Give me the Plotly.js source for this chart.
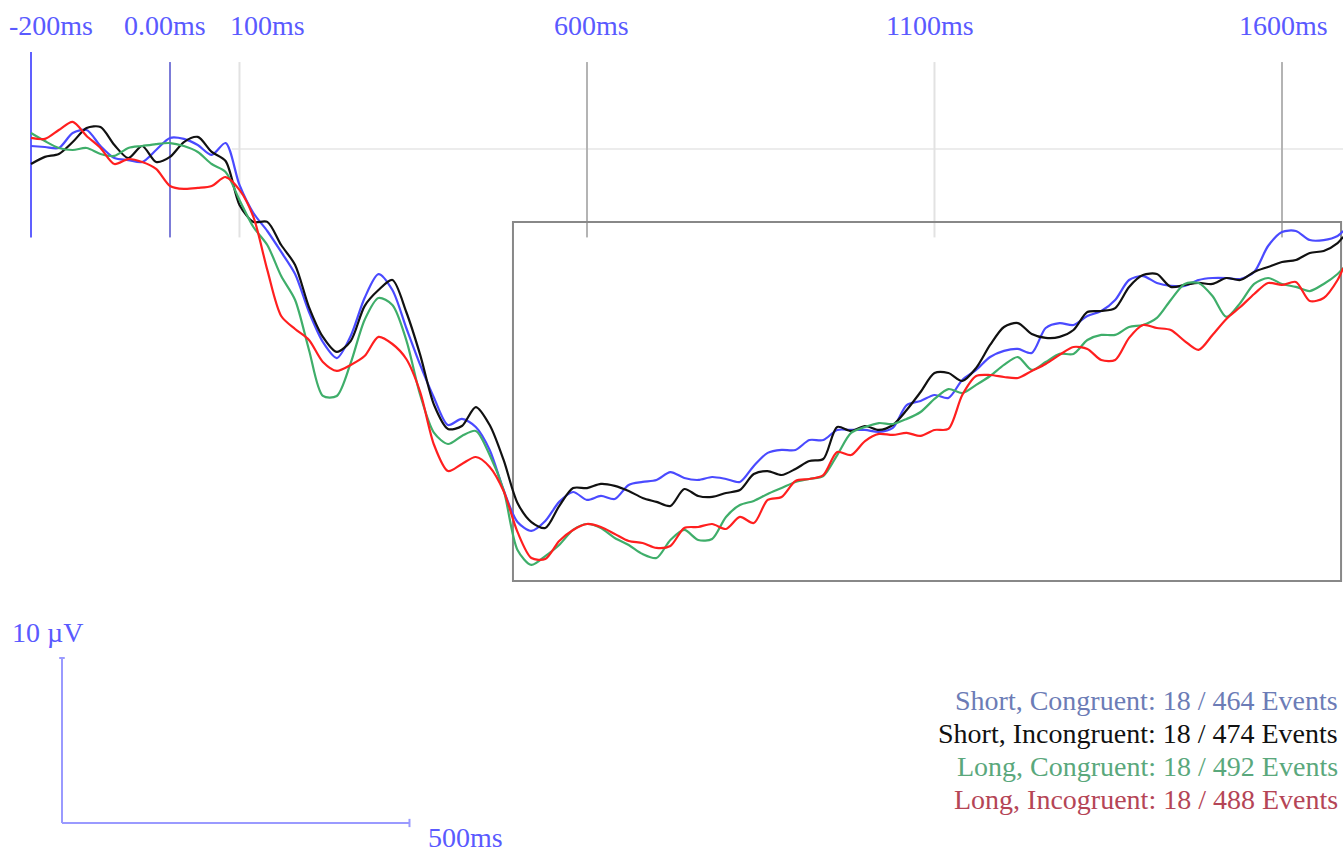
<!DOCTYPE html>
<html>
<head>
<meta charset="utf-8">
<script src="https://cdn.plot.ly/plotly-3.0.1.min.js"></script>
<style>
  html, body { margin: 0; padding: 0; background: #ffffff; }
  #erp { width: 1343px; height: 853px; }
</style>
</head>
<body>
<div id="erp"></div>
<script>
// Sample times (ms relative to stimulus onset)
const timesMs = [
  -200, -180, -160, -140, -120, -100, -80, -60, -40, -20,
  0, 20, 40, 60, 80, 100, 120, 140, 160, 180,
  200, 220, 240, 260, 280, 300, 320, 340, 360, 380,
  400, 420, 440, 460, 480, 500, 520, 540, 560, 580,
  600, 620, 640, 660, 680, 700, 720, 740, 760, 780,
  800, 820, 840, 860, 880, 900, 920, 940, 960, 980,
  1000, 1020, 1040, 1060, 1080, 1100, 1120, 1140, 1160, 1180,
  1200, 1220, 1240, 1260, 1280, 1300, 1320, 1340, 1360, 1380,
  1400, 1420, 1440, 1460, 1480, 1500, 1520, 1540, 1560, 1580,
  1600, 1620, 1640, 1660, 1680, 1688
];

// Grand-average amplitudes (µV) per condition
const shortCongruent = [
  0.18, 0.12, 0.06, 0.97, 1.15, 0.18, -0.55, -0.67, -0.79, -0.06,
  0.67, 0.61, 0.24, -0.36, 0.36, -2.18, -3.88, -4.97, -6.24, -7.58,
  -9.88, -11.70, -12.67, -11.33, -9.03, -7.58, -8.55, -10.85, -13.09, -15.09,
  -16.73, -16.36, -16.85, -18.24, -20.67, -22.61, -23.15, -22.55, -21.39, -20.79,
  -21.27, -21.03, -21.21, -20.36, -20.18, -20.06, -19.58, -19.94, -20.06, -19.88,
  -20.00, -20.18, -19.21, -18.42, -18.24, -18.24, -17.64, -17.64, -17.03, -17.03,
  -17.03, -17.15, -16.91, -15.52, -15.27, -14.91, -15.09, -14.00, -13.39, -12.61,
  -12.24, -12.12, -12.36, -10.85, -10.55, -10.67, -10.12, -9.82, -9.15, -7.94,
  -7.70, -8.12, -8.30, -8.30, -7.94, -7.82, -7.82, -7.88, -7.45, -5.88,
  -5.03, -4.97, -5.52, -5.52, -5.27, -4.97
];
const shortIncongruent = [
  -0.91, -0.48, -0.30, 0.42, 1.27, 1.33, 0.24, -0.55, 0.18, -0.79,
  -0.48, 0.42, 0.73, -0.18, -0.73, -3.39, -4.42, -4.42, -5.82, -7.03,
  -9.58, -11.39, -12.30, -11.64, -9.52, -8.55, -7.94, -9.88, -12.48, -15.52,
  -16.97, -16.79, -15.64, -16.73, -18.85, -21.45, -22.61, -22.97, -21.64, -20.55,
  -20.55, -20.30, -20.42, -20.73, -21.15, -21.39, -21.64, -20.61, -21.03, -21.09,
  -20.85, -20.67, -19.70, -19.52, -19.76, -19.39, -18.91, -18.79, -16.85, -17.09,
  -16.79, -17.03, -16.73, -15.82, -14.73, -13.58, -13.58, -14.06, -13.27, -11.88,
  -10.79, -10.55, -11.21, -11.45, -11.39, -10.97, -9.88, -9.82, -9.64, -8.36,
  -7.64, -7.58, -8.36, -8.24, -8.12, -8.18, -7.82, -7.94, -7.45, -7.15,
  -6.85, -6.73, -6.30, -6.18, -5.70, -5.33
];
const longCongruent = [
  0.97, 0.48, 0.06, -0.06, 0.06, -0.30, -0.42, 0.06, 0.18, 0.30,
  0.36, 0.18, -0.18, -0.91, -1.39, -3.09, -4.73, -5.82, -7.70, -9.15,
  -12.18, -14.97, -14.97, -12.97, -10.36, -9.03, -9.45, -11.58, -14.91, -17.21,
  -17.88, -17.39, -17.09, -18.55, -20.67, -24.30, -25.21, -24.67, -24.00, -23.09,
  -22.73, -22.97, -23.58, -24.00, -24.55, -24.79, -23.70, -23.09, -23.70, -23.64,
  -22.30, -21.58, -21.33, -20.91, -20.55, -20.18, -20.00, -19.82, -18.55, -17.21,
  -16.85, -16.61, -16.67, -16.36, -15.94, -15.15, -14.55, -14.79, -14.30, -13.76,
  -13.09, -12.61, -13.39, -12.91, -12.42, -12.42, -11.58, -11.27, -11.27, -10.79,
  -10.67, -10.24, -9.15, -8.18, -8.12, -8.91, -10.18, -9.33, -8.18, -7.82,
  -8.18, -8.36, -8.61, -8.18, -7.58, -7.21
];
const longIncongruent = [
  0.67, 0.61, 1.15, 1.64, 0.79, 0.06, -0.91, -0.61, -0.79, -1.21,
  -2.24, -2.42, -2.36, -2.24, -1.70, -2.48, -4.12, -7.33, -10.12, -10.91,
  -11.58, -12.91, -13.45, -13.09, -12.55, -11.39, -11.82, -12.73, -14.73, -17.94,
  -19.52, -19.09, -18.67, -19.27, -20.73, -23.21, -24.79, -24.85, -23.76, -23.09,
  -22.73, -22.91, -23.33, -23.76, -23.88, -24.18, -24.06, -22.97, -22.91, -22.73,
  -23.03, -22.30, -22.67, -21.27, -21.09, -20.12, -20.00, -19.76, -18.36, -18.55,
  -17.70, -17.27, -17.33, -17.21, -17.39, -17.03, -16.97, -14.91, -13.76, -13.70,
  -13.82, -13.88, -13.45, -13.03, -12.48, -12.00, -12.12, -12.79, -12.79, -11.45,
  -10.67, -10.85, -10.97, -11.64, -12.18, -11.27, -10.30, -9.58, -8.79, -8.12,
  -8.24, -8.06, -9.21, -9.03, -7.94, -7.21
];

// Condition labels and trial counts
const conditionNames = ["Short, Congruent", "Short, Incongruent", "Long, Congruent", "Long, Incogruent"];
const acceptedTrials = [18, 18, 18, 18];
const totalEvents = [464, 474, 492, 488];

// Time markers along the top
const markerTimes = [-200, 0, 100, 600, 1100, 1600];
const markerLabels = ["-200ms", "0.00ms", "100ms", "600ms", "1100ms", "1600ms"];

// Analysis window and scale bar
const windowStartMs = 493.5, windowEndMs = 1685;
const windowTopUv = -4.42, windowBottomUv = -26.18;
const scaleBarMs = 500, scaleBarUv = 10;
const scaleOriginMs = -155.4, scaleOriginUv = -40.85;

// ---- styling ----
const lineColors = ["#4a4aff", "#111111", "#3fae6a", "#ff1f1f"];
const legendColors = ["#6c7cb6", "#111111", "#5aa87c", "#b54556"];
const markerColors = ["#6060ff", "#7c7cd8", "#e2e2e2", "#b4b4b4", "#e2e2e2", "#b4b4b4"];
const markerTopUv = [5.88, 5.27, 5.27, 5.27, 5.27, 5.27];
const markerBottomUv = -5.36;
const labelShift = [20, -5, 28, 5, -4, 2];
const labelColor = "#5a5aff";
const serif = "Liberation Serif, Times New Roman, serif";

const series = [shortCongruent, shortIncongruent, longCongruent, longIncongruent];
const traces = series.map((vals, i) => ({
  x: timesMs,
  y: vals,
  type: "scatter",
  mode: "lines",
  name: conditionNames[i],
  line: { color: lineColors[i], width: 2.2, shape: "spline", smoothing: 0.8 },
  hoverinfo: "skip"
}));

const shapes = [];
// zero baseline
shapes.push({ type: "line", xref: "x", yref: "y", x0: 89, x1: 1688, y0: 0, y1: 0,
  line: { color: "#e6e6e6", width: 1.5 }, layer: "below" });
// vertical time markers
markerTimes.forEach((t, i) => {
  shapes.push({ type: "line", xref: "x", yref: "y", x0: t, x1: t,
    y0: markerBottomUv, y1: markerTopUv[i],
    line: { color: markerColors[i], width: 2 }, layer: "below" });
});
// analysis window
shapes.push({ type: "rect", xref: "x", yref: "y",
  x0: windowStartMs, x1: windowEndMs, y0: windowBottomUv, y1: windowTopUv,
  line: { color: "#888888", width: 2 }, fillcolor: "rgba(0,0,0,0)", layer: "below" });
// scale bar
const sbColor = "#9a9aff";
shapes.push({ type: "line", xref: "x", yref: "y", x0: scaleOriginMs, x1: scaleOriginMs,
  y0: scaleOriginUv, y1: scaleOriginUv + scaleBarUv, line: { color: sbColor, width: 2 } });
shapes.push({ type: "line", xref: "x", yref: "y", x0: scaleOriginMs, x1: scaleOriginMs + scaleBarMs,
  y0: scaleOriginUv, y1: scaleOriginUv, line: { color: sbColor, width: 2 } });
shapes.push({ type: "line", xref: "x", yref: "y", x0: scaleOriginMs - 4, x1: scaleOriginMs + 4,
  y0: scaleOriginUv + scaleBarUv, y1: scaleOriginUv + scaleBarUv, line: { color: sbColor, width: 2 } });
shapes.push({ type: "line", xref: "x", yref: "y", x0: scaleOriginMs + scaleBarMs, x1: scaleOriginMs + scaleBarMs,
  y0: scaleOriginUv - 0.25, y1: scaleOriginUv + 0.25, line: { color: sbColor, width: 2 } });

const annotations = [];
markerLabels.forEach((txt, i) => {
  annotations.push({ text: txt, xref: "x", yref: "paper", x: markerTimes[i], y: 1 - 26 / 853,
    xanchor: "center", yanchor: "middle", xshift: labelShift[i], showarrow: false,
    font: { family: serif, size: 28, color: labelColor } });
});
annotations.push({ text: scaleBarUv + " µV", xref: "x", yref: "y",
  x: scaleOriginMs, y: scaleOriginUv + scaleBarUv, xanchor: "left", yanchor: "bottom",
  xshift: -52, yshift: 8, showarrow: false, font: { family: serif, size: 28, color: labelColor } });
annotations.push({ text: scaleBarMs + "ms", xref: "x", yref: "y",
  x: scaleOriginMs + scaleBarMs, y: scaleOriginUv, xanchor: "left", yanchor: "middle",
  xshift: 17, yshift: -15, showarrow: false, font: { family: serif, size: 28, color: labelColor } });
conditionNames.forEach((name, i) => {
  annotations.push({ text: name + ": " + acceptedTrials[i] + " / " + totalEvents[i] + " Events",
    xref: "paper", yref: "paper", x: 1340 / 1343, y: 1 - (700 + 33.3 * i) / 853,
    xanchor: "right", yanchor: "middle", showarrow: false,
    font: { family: serif, size: 28, color: legendColors[i] } });
});

const layout = {
  width: 1343, height: 853,
  margin: { l: 0, r: 0, t: 0, b: 0 },
  paper_bgcolor: "#ffffff", plot_bgcolor: "#ffffff",
  showlegend: false,
  xaxis: { range: [-244.6, 1687.8], visible: false, fixedrange: true },
  yaxis: { range: [-42.67, 9.03], visible: false, fixedrange: true },
  shapes: shapes,
  annotations: annotations
};

Plotly.newPlot("erp", traces, layout, { staticPlot: true, displayModeBar: false });
</script>
</body>
</html>
